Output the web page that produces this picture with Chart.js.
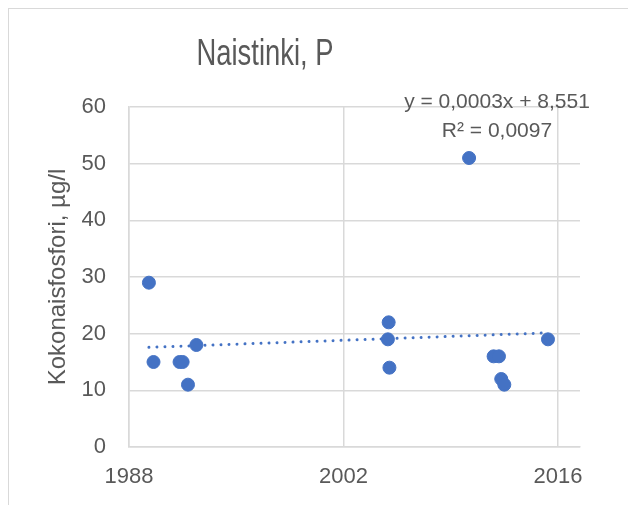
<!DOCTYPE html>
<html>
<head>
<meta charset="utf-8">
<script src="https://cdn.jsdelivr.net/npm/chart.js@4.4.1/dist/chart.umd.min.js"></script>
<style>
  html, body { margin: 0; padding: 0; background: #fff; overflow: hidden; }
  #frame {
    position: absolute; left: 8px; top: 8px; width: 700px; height: 600px;
    border: 1px solid #d9d9d9; pointer-events: none;
  }
  canvas { position: absolute; left: 0; top: 0; }
</style>
</head>
<body>
<canvas id="naistinkiChart" width="628" height="505"></canvas>
<div id="frame"></div>
<script>
// measurements (decimal year, total phosphorus µg/l)
const sampleYears = [1989.3, 1989.6, 1991.3, 1991.5, 1991.85, 1992.4, 2004.9, 2004.95, 2005.0, 2010.2, 2011.8, 2012.15, 2012.3, 2012.5, 2015.35];
const phosphorus = [29, 15, 15, 15, 11, 18, 19, 22, 14, 51, 16, 16, 12, 11, 19];
const xTicks = [1988, 2002, 2016];
const chartTitle = "Naistinki, P";
const trendText = ["y = 0,0003x + 8,551", "R² = 0,0097"];

const textColor = "#595959";
const gridColor = "#d9d9d9";
const blue = "#4472C4";

// least squares line through the points (like Excel's linear trendline)
function linearTrend(xs, ys) {
  const n = xs.length;
  const mx = xs.reduce((a, b) => a + b, 0) / n;
  const my = ys.reduce((a, b) => a + b, 0) / n;
  let sxy = 0, sxx = 0;
  for (let i = 0; i < n; i++) {
    sxy += (xs[i] - mx) * (ys[i] - my);
    sxx += (xs[i] - mx) * (xs[i] - mx);
  }
  const k = sxy / sxx;
  const x0 = Math.min(...xs), x1 = Math.max(...xs);
  return [
    { x: x0, y: my + k * (x0 - mx) },
    { x: x1, y: my + k * (x1 - mx) },
  ];
}

const points = sampleYears.map((x, i) => ({ x: x, y: phosphorus[i] }));

// title is narrow in the original, so squeeze it horizontally
const narrowTitle = {
  id: "narrow-title",
  afterDraw: (chart) => {
    const ctx = chart.ctx;
    ctx.save();
    ctx.fillStyle = textColor;
    ctx.font = "37px 'Liberation Sans', Arial, sans-serif";
    ctx.textAlign = "center";
    ctx.textBaseline = "alphabetic";
    ctx.translate(265, 65);
    ctx.scale(0.74, 1);
    ctx.fillText(chartTitle, 0, 0);
    ctx.restore();
  },
};

const trendLabel = {
  id: "trend-label",
  afterDraw: (chart) => {
    const ctx = chart.ctx;
    ctx.save();
    ctx.fillStyle = textColor;
    ctx.font = "21px 'Liberation Sans', Arial, sans-serif";
    ctx.textAlign = "center";
    ctx.textBaseline = "alphabetic";
    ctx.fillText(trendText[0], 497, 108);
    ctx.fillText(trendText[1], 497, 137);
    ctx.restore();
  },
};

const config = {
  type: "scatter",
  data: {
    datasets: [
      {
        label: "Kokonaisfosfori",
        data: points,
        backgroundColor: blue,
        borderColor: blue,
        pointRadius: 6.5,
        pointHoverRadius: 6.5,
        order: 0,
      },
      {
        type: "line",
        label: "Trendi",
        data: linearTrend(sampleYears, phosphorus),
        borderColor: blue,
        borderWidth: 3,
        borderDash: [0.01, 8],
        borderCapStyle: "round",
        pointRadius: 0,
        fill: false,
        order: 1,
      },
    ],
  },
  plugins: [narrowTitle, trendLabel],
  options: {
    responsive: false,
    animation: false,
    layout: { padding: { left: 0, right: 48, top: 107, bottom: 0 } },
    plugins: {
      legend: { display: false },
      tooltip: { enabled: false },
      title: { display: false },
    },
    scales: {
      x: {
        type: "linear",
        min: 1988,
        max: 2017.44,
        afterBuildTicks: (scale) => {
          scale.ticks = xTicks.map((v) => ({ value: v }));
        },
        afterFit: (scale) => {
          scale.height = 58;
        },
        grid: { color: gridColor, lineWidth: 1.5, drawTicks: false },
        border: { color: gridColor, width: 1.5 },
        ticks: {
          color: textColor,
          padding: 17,
          maxRotation: 0,
          font: { family: "'Liberation Sans', Arial, sans-serif", size: 22 },
          callback: (v) => String(v),
        },
      },
      y: {
        min: 0,
        max: 60,
        afterFit: (scale) => {
          scale.width = 129;
        },
        grid: { color: gridColor, lineWidth: 1.5, drawTicks: false },
        border: { color: gridColor, width: 1.5 },
        ticks: {
          stepSize: 10,
          color: textColor,
          padding: 23,
          font: { family: "'Liberation Sans', Arial, sans-serif", size: 22 },
        },
        title: {
          display: true,
          text: "Kokonaisfosfori, µg/l",
          color: textColor,
          font: { family: "'Liberation Sans', Arial, sans-serif", size: 24 },
          padding: { top: 44, bottom: 0 },
        },
      },
    },
  },
};

new Chart(document.getElementById("naistinkiChart"), config);
</script>
</body>
</html>
